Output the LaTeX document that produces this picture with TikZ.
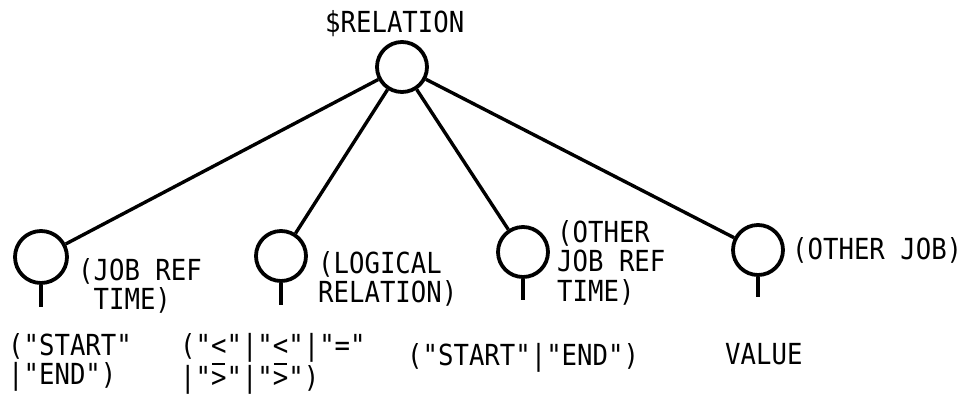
\documentclass[tikz,border=0pt]{standalone}
\usepackage{fontspec}
\setmonofont[FakeStretch=0.885]{DejaVu Sans Mono}
\newcommand\lblfont{\ttfamily\fontsize{29}{29.5}\selectfont}
\newcommand\tst{\vrule width 0pt height 22pt}
\newcommand\ovb[1]{\rlap{\hspace{1pt}\rule[23pt]{13pt}{1.4pt}}#1}
\tikzset{
  nd/.style={circle, draw, line width=3.8pt, minimum size=50pt, inner sep=0pt},
  lbl/.style={font=\lblfont, inner sep=0pt, anchor=north west, align=left},
  edge/.style={line width=3.4pt},
  stem/.style={line width=4.2pt}
}
\begin{document}
\begin{tikzpicture}[x=1pt,y=-1pt]
\useasboundingbox (0,0) rectangle (965,394);
% nodes
\node[nd] (root) at (402,67) {};
\node[nd, minimum size=52pt] (n1) at (41,257) {};
\node[nd] (n2) at (281,256) {};
\node[nd] (n3) at (523,252) {};
\node[nd] (n4) at (758,250) {};
% stems
\coordinate (s1) at (41,307);
\coordinate (s2) at (281,305);
\coordinate (s3) at (523,300);
\coordinate (s4) at (758,297);
\draw[stem] (n1) -- (s1);
\draw[stem] (n2) -- (s2);
\draw[stem] (n3) -- (s3);
\draw[stem] (n4) -- (s4);
% edges
\draw[edge] (root) -- (n1);
\draw[edge] (root) -- (n2);
\draw[edge] (root) -- (n3);
\draw[edge] (root) -- (n4);
% labels
\node[lbl] (t0) at (325,10) {\tst\$RELATION};
\node[lbl] (t1) at (78,258) {\tst(JOB REF\\\phantom{(}TIME)};
\node[lbl] (t2) at (318,251) {\tst(LOGICAL\\RELATION)};
\node[lbl] (t3) at (557,220) {\tst(OTHER\\JOB REF\\TIME)};
\node[lbl] (t4) at (792,237) {\tst(OTHER JOB)};
\node[lbl] (v1) at (8,333) {\tst("START"\\|"END")};
\node[lbl] (v2) at (180,333) {\tst("<"|"<"|"="\\|"\ovb{>}"|"\ovb{>}")};
\node[lbl] (v3) at (407,343) {\tst("START"|"END")};
\node[lbl] (v4) at (725,342) {\tst VALUE};
\end{tikzpicture}
\end{document}
